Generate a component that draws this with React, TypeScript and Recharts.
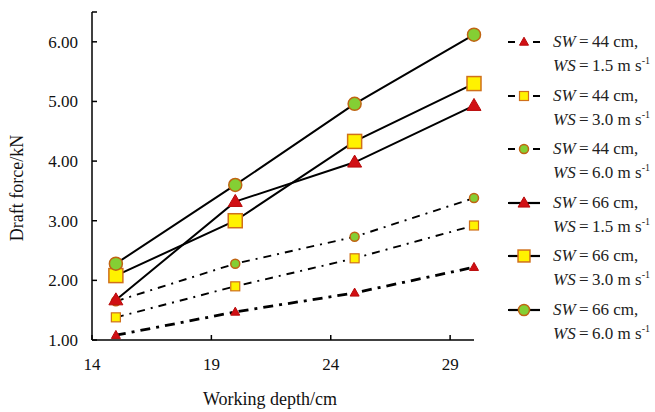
import { LineChart, Line, XAxis, YAxis } from "recharts";

// working depth (cm) and draft force (kN)
const depths = [15, 20, 25, 30];
const sw44ws15 = [1.08, 1.47, 1.79, 2.22];
const sw44ws30 = [1.38, 1.9, 2.37, 2.92];
const sw44ws60 = [1.65, 2.28, 2.73, 3.38];
const sw66ws15 = [1.67, 3.32, 3.98, 4.93];
const sw66ws30 = [2.08, 3.0, 4.33, 5.3];
const sw66ws60 = [2.28, 3.6, 4.96, 6.12];

const xTicks = [14, 19, 24, 29];
const yTicks = [1, 2, 3, 4, 5, 6, 6.5];

type Shape = "triangle" | "square" | "circle";

interface Series {
  key: string;
  sw: string;
  ws: string;
  values: number[];
  shape: Shape;
  big: boolean;
  dash?: string;
  width: number;
}

const series: Series[] = [
  { key: "s1", sw: "44", ws: "1.5", values: sw44ws15, shape: "triangle", big: false, dash: "10 6 3 6", width: 2.8 },
  { key: "s2", sw: "44", ws: "3.0", values: sw44ws30, shape: "square", big: false, dash: "8 6 2 6", width: 1.9 },
  { key: "s3", sw: "44", ws: "6.0", values: sw44ws60, shape: "circle", big: false, dash: "8 6 2 6", width: 1.9 },
  { key: "s4", sw: "66", ws: "1.5", values: sw66ws15, shape: "triangle", big: true, width: 2 },
  { key: "s5", sw: "66", ws: "3.0", values: sw66ws30, shape: "square", big: true, width: 2 },
  { key: "s6", sw: "66", ws: "6.0", values: sw66ws60, shape: "circle", big: true, width: 2 },
];

const rows = depths.map((d, i) => {
  const r: Record<string, number> = { depth: d };
  series.forEach((s) => (r[s.key] = s.values[i]));
  return r;
});

const FONT = "'Liberation Serif', 'Times New Roman', serif";

function marker(shape: Shape, big: boolean, cx: number, cy: number, key?: string, scale = 1) {
  if (shape === "triangle") {
    const w = (big ? 14 : 9) * scale;
    const h = (big ? 12 : 8) * scale;
    const pts = `${cx},${cy - h * 0.6} ${cx + w / 2},${cy + h * 0.4} ${cx - w / 2},${cy + h * 0.4}`;
    return <polygon key={key} points={pts} fill="#d10f14" stroke="#b80a0a" strokeWidth={1} />;
  }
  if (shape === "square") {
    const s = (big ? 14 : 9) * scale;
    return (
      <rect key={key} x={cx - s / 2} y={cy - s / 2} width={s} height={s}
        fill="#fff200" stroke="#d0701a" strokeWidth={big ? 1.5 : 1.2} />
    );
  }
  const r = (big ? 6.5 : 4.5) * scale;
  return <circle key={key} cx={cx} cy={cy} r={r} fill="#84cf34" stroke="#c06412" strokeWidth={1.5} />;
}

function XLabel() {
  return (
    <text x={270} y={405} textAnchor="middle" fontFamily={FONT} fontSize={18} fill="#111">
      Working depth/cm
    </text>
  );
}

function YLabel() {
  return (
    <text x={23} y={188} textAnchor="middle" fontFamily={FONT} fontSize={18} fill="#111"
      transform="rotate(-90 23 188)">
      Draft force/kN
    </text>
  );
}

function LegendBox() {
  return (
    <div style={{ position: "absolute", left: 506, top: 30, fontFamily: FONT, fontSize: 17, color: "#222" }}>
      {series.map((s) => (
        <div key={s.key} style={{ display: "flex", height: 53.5 }}>
          <svg width={36} height={24} style={{ marginRight: 11, flex: "none" }}>
            <line x1={2} x2={34} y1={12} y2={12} stroke="#000" strokeWidth={2.2}
              strokeDasharray={s.dash ? "7 7 4 7" : undefined} />
            {marker(s.shape, s.big, 18, 12, undefined, s.big ? 0.85 : 1)}
          </svg>
          <div style={{ lineHeight: "24px", whiteSpace: "nowrap" }}>
            <div style={{ height: 24 }}><i>SW</i>&thinsp;=&thinsp;{s.sw} cm,</div>
            <div style={{ height: 24 }}>
              <i>WS</i>&thinsp;=&thinsp;{s.ws} m s
              <span style={{ fontSize: 10, position: "relative", top: -7, lineHeight: 0 }}>-1</span>
            </div>
          </div>
        </div>
      ))}
    </div>
  );
}

export default function App() {
  return (
    <div style={{ position: "absolute", left: 0, top: 0, width: 655, height: 412, background: "#fff" }}>
      <LineChart width={655} height={412} data={rows} margin={{ top: 12, right: 181, bottom: 0, left: 0 }}>
        <XAxis
          dataKey="depth"
          type="number"
          domain={[14, 30]}
          ticks={xTicks}
          height={72}
          tickSize={-5}
          tickMargin={23}
          axisLine={{ stroke: "#000", strokeWidth: 1.5 }}
          tickLine={{ stroke: "#000", strokeWidth: 1.5 }}
          tick={{ fill: "#111", fontFamily: FONT, fontSize: 17 }}
          label={<XLabel />}
        />
        <YAxis
          type="number"
          domain={[1, 6.5]}
          ticks={yTicks}
          width={92}
          tickSize={-5}
          tickMargin={19}
          tickFormatter={(v: number) => (v === 6.5 ? "" : v.toFixed(2))}
          axisLine={{ stroke: "#000", strokeWidth: 1.5 }}
          tickLine={{ stroke: "#000", strokeWidth: 1.5 }}
          tick={{ fill: "#111", fontFamily: FONT, fontSize: 17 }}
          label={<YLabel />}
        />
        {series.map((s) => (
          <Line
            key={s.key}
            dataKey={s.key}
            stroke="#000"
            strokeWidth={s.width}
            strokeDasharray={s.dash}
            isAnimationActive={false}
            dot={(p: any) => marker(s.shape, s.big, p.cx, p.cy, `${s.key}-${p.index}`)}
            activeDot={false}
          />
        ))}
      </LineChart>
      <LegendBox />
    </div>
  );
}
